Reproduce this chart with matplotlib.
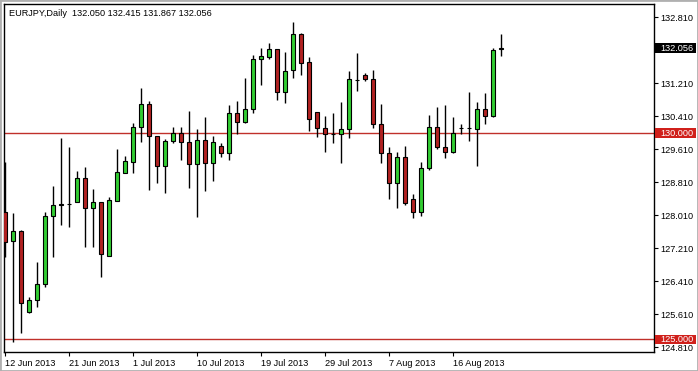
import matplotlib.pyplot as plt
import matplotlib.transforms as mtransforms
from matplotlib.patches import Rectangle

plt.rcParams['font.family'] = ['Liberation Sans', 'DejaVu Sans']

# daily candles, EURJPY, 12 Jun 2013 .. 23 Aug 2013 (Sunday bars included)
opens = [128.097, 127.387, 127.636, 125.673, 125.956, 126.344, 127.993, 128.259, 128.276, 128.339,
         128.914, 128.187, 128.332, 127.030, 128.364, 129.042, 129.309, 130.143, 130.708, 129.932,
         129.205, 129.804, 129.998, 129.779, 129.246, 129.835, 129.285, 129.690, 129.513, 130.482,
         130.279, 130.579, 131.791, 131.840, 132.034, 130.999, 131.532, 132.405, 131.726, 130.514,
         130.119, 129.988, 129.981, 130.095, 131.290, 131.411, 131.307, 130.216, 129.513, 128.785,
         129.416, 128.398, 128.090, 129.149, 130.143, 129.658, 129.556, 130.126, 130.126, 130.095,
         130.579, 130.424, 132.050]
highs = [129.309, 128.066, 127.650, 126.036, 126.885, 128.090, 128.720, 129.884, 129.665, 129.084,
         129.181, 128.647, 128.340, 128.461, 129.617, 129.447, 130.247, 131.088, 130.781, 129.940,
         129.859, 130.150, 130.158, 130.545, 130.095, 130.385, 129.932, 129.770, 130.684, 130.788,
         131.331, 131.896, 132.058, 132.194, 132.040, 131.976, 132.703, 132.422, 131.840, 130.520,
         130.405, 130.490, 130.764, 131.508, 131.951, 131.452, 131.532, 130.708, 129.658, 129.552,
         129.678, 128.526, 129.302, 130.441, 130.642, 130.684, 130.393, 130.223, 131.006, 130.756,
         130.975, 132.058, 132.415]
lows = [127.006, 124.946, 125.156, 125.641, 125.787, 126.279, 127.006, 127.774, 127.733, 128.330,
        127.241, 127.249, 126.521, 127.020, 128.355, 129.035, 129.042, 129.794, 128.623, 128.793,
        128.543, 129.770, 129.350, 128.664, 127.976, 128.606, 128.849, 129.430, 129.350, 129.981,
        130.254, 130.482, 131.161, 131.791, 130.805, 130.725, 131.331, 131.411, 130.053, 129.915,
        129.552, 129.770, 129.285, 129.891, 131.030, 131.273, 130.119, 129.270, 128.398, 128.179,
        128.259, 127.937, 127.981, 129.101, 129.624, 129.392, 129.527, 129.988, 129.818, 129.217,
        130.223, 130.385, 131.867]
closes = [127.370, 127.636, 125.876, 125.956, 126.344, 127.993, 128.259, 128.272, 128.284, 128.914,
          128.187, 128.332, 127.072, 128.381, 129.059, 129.319, 130.143, 130.708, 129.932, 129.205,
          129.804, 129.998, 129.779, 129.246, 129.835, 129.285, 129.779, 129.513, 130.482, 130.279,
          130.579, 131.791, 131.871, 132.034, 130.999, 131.515, 132.405, 131.709, 130.337, 130.119,
          129.981, 129.981, 130.095, 131.307, 131.282, 131.307, 130.216, 129.513, 128.785, 129.416,
          128.315, 128.090, 129.149, 130.143, 129.658, 129.556, 129.998, 130.131, 130.131, 130.579,
          130.429, 132.017, 132.056]

date_ticks = [0, 8, 16, 24, 32, 40, 48, 56]
date_labels = ['12 Jun 2013', '21 Jun 2013', '1 Jul 2013', '10 Jul 2013',
               '19 Jul 2013', '29 Jul 2013', '7 Aug 2013', '16 Aug 2013']
price_ticks = [124.81, 125.61, 126.41, 127.21, 128.01, 128.81, 129.61, 130.41, 131.21, 132.81]
level_lines = [130.0, 125.0]
title = 'EURJPY,Daily  132.050 132.415 131.867 132.056'

green = '#32cd32'
red = '#b22222'
line_red = '#c0302a'

W, H = 698, 371
fig = plt.figure(figsize=(W / 100, H / 100), dpi=100)
fig.patch.set_facecolor('white')
ax = fig.add_axes([4 / W, 1 - 352 / H, 649.5 / W, 348 / H])

xs = list(range(len(opens)))
ax.vlines(xs, lows, highs, color='black', lw=1, zorder=2)
for x, o, c in zip(xs, opens, closes):
    col = green if c >= o else red
    ax.bar(x, c - o, bottom=o, width=0.62, color=col, edgecolor='black', lw=0.8, zorder=3)

for lv in level_lines:
    ax.axhline(lv, color=line_red, lw=1, zorder=1)

ax.set_xlim(-0.125, 81.06)
ax.set_ylim(124.696, 133.132)

ax.yaxis.tick_right()
ax.set_yticks(price_ticks)
ax.set_yticklabels([f'{v:.3f}' for v in price_ticks])
ax.set_xticks(date_ticks)
ax.set_xticklabels(date_labels)
for lab in ax.get_xticklabels():
    lab.set_horizontalalignment('left')
ax.tick_params(axis='both', direction='out', length=3, width=0.8, labelsize=6.6, colors='black')
ax.tick_params(axis='y', pad=2)
ax.tick_params(axis='x', pad=2)
for sp in ax.spines.values():
    sp.set_color('black')
    sp.set_linewidth(1)

# value boxes on the price scale
blend = mtransforms.blended_transform_factory(ax.transAxes, ax.transData)
x0 = (655 - 4) / 649.5
bw = (696 - 655) / 649.5
boxes = [(132.056, 'black'), (130.000, '#d0201b'), (125.000, '#d0201b')]
for val, fc in boxes:
    ax.add_patch(Rectangle((x0, val - 0.12), bw, 0.24, transform=blend, facecolor=fc,
                           edgecolor='none', clip_on=False, zorder=10))
    ax.text(x0 + 0.0075, val, f'{val:.3f}', transform=blend, color='white', fontsize=6.6,
            ha='left', va='center', zorder=11, clip_on=False)

fig.text(9 / W, 1 - 13 / H, title, fontsize=6.6, ha='left', va='center')

fig.add_artist(Rectangle((0, 0), 1, 1, transform=fig.transFigure, fill=False,
                         edgecolor='#b0b0b0', lw=2))

fig.savefig('out.png', dpi=100)
